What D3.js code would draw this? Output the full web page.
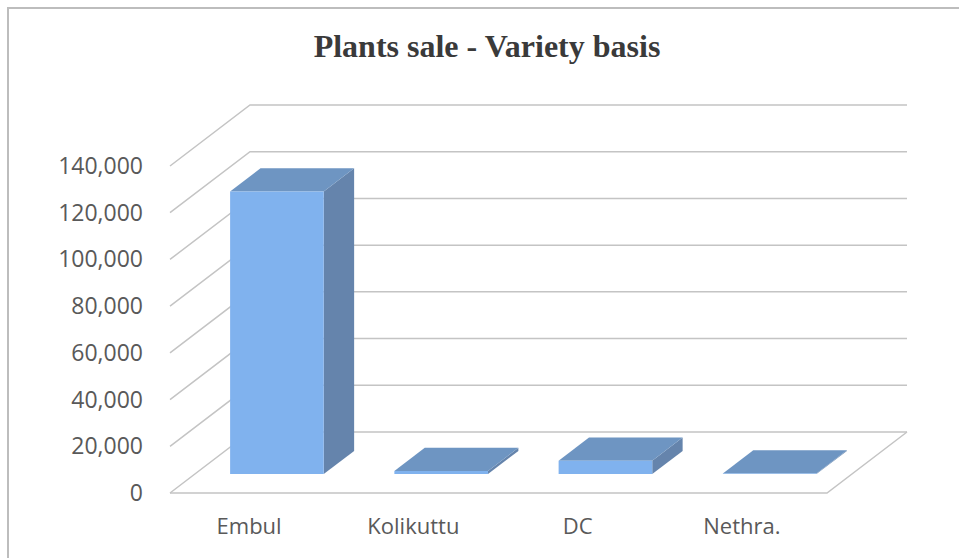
<!DOCTYPE html>
<html>
<head>
<meta charset="utf-8">
<script src="https://cdn.jsdelivr.net/npm/d3@7"></script>
<style>
  body { margin: 0; background: #fff; }
  svg { display: block; }
</style>
</head>
<body>
<svg id="chart" width="959" height="558"></svg>
<script>
"use strict";

// chart data
var categories = ["Embul", "Kolikuttu", "DC", "Nethra."];
var sales = [121000, 1300, 5700, 300];
var tickValues = [0, 20000, 40000, 60000, 80000, 100000, 120000, 140000];
var title = "Plants sale - Variety basis";

var svg = d3.select("#chart");

// 3d box: front floor edge, depth offset of the back wall
var front = {left: 170, right: 827, base: 493};
var depth = {dx: 80, dy: -61};
var barDepth = [0.31, 0.69];

var x = d3.scaleBand()
    .domain(categories)
    .range([front.left, front.right])
    .paddingInner(0.43)
    .paddingOuter(0.215);

var h = d3.scaleLinear()
    .domain([0, 140000])
    .range([0, 327]);

// project (front x, value, depth fraction) to screen
function pt(px, v, f) {
  return [px + f * depth.dx, front.base - h(v) + f * depth.dy];
}

function poly(points) {
  return "M" + points.map(function(p){ return p.join(","); }).join("L") + "Z";
}

// outer border
svg.append("rect")
    .attr("x", 8).attr("y", 8)
    .attr("width", 980).attr("height", 600)
    .style("fill", "none")
    .style("stroke", "#bdbdbd")
    .style("stroke-width", 2);

svg.append("text")
    .attr("x", 487)
    .attr("y", 57)
    .attr("text-anchor", "middle")
    .style("font-family", "'Liberation Serif', 'Times New Roman', serif")
    .style("font-weight", "bold")
    .style("font-size", "32px")
    .style("fill", "#3a3a3a")
    .text(title);

var grid = svg.append("g")
    .style("stroke", "#c4c4c4")
    .style("stroke-width", 1.5)
    .style("fill", "none");

// back wall lines + left wall diagonals
tickValues.forEach(function(t) {
  var a = pt(front.left, t, 0), b = pt(front.left, t, 1), c = pt(front.right, t, 1);
  grid.append("path").attr("d", "M" + a + "L" + b + "L" + c);
});

// floor front and right edges
grid.append("path")
    .attr("d", "M" + pt(front.left, 0, 0) + "L" + pt(front.right, 0, 0) + "L" + pt(front.right, 0, 1));

// y tick labels
svg.append("g").selectAll("text")
    .data(tickValues)
    .enter()
    .append("text")
    .attr("x", 143)
    .attr("y", function(d){ return pt(front.left, d, 0)[1]; })
    .attr("dy", "0.35em")
    .attr("text-anchor", "end")
    .style("font-family", "'Open Sans', sans-serif")
    .style("font-size", "23px")
    .style("fill", "#595959")
    .text(function(d){ return d3.format(",")(d); });

// bars: side, top, then front face
var bars = svg.append("g").selectAll("g")
    .data(categories)
    .enter()
    .append("g");

var f0 = barDepth[0], f1 = barDepth[1];

bars.append("path")
    .attr("d", function(d, i) {
      var x1 = x(d) + x.bandwidth();
      return poly([pt(x1, 0, f0), pt(x1, 0, f1), pt(x1, sales[i], f1), pt(x1, sales[i], f0)]);
    })
    .style("fill", "#6584ac");

bars.append("path")
    .attr("d", function(d, i) {
      var x0 = x(d), x1 = x(d) + x.bandwidth(), v = sales[i];
      return poly([pt(x0, v, f0), pt(x1, v, f0), pt(x1, v, f1), pt(x0, v, f1)]);
    })
    .style("fill", "#6e95c2");

bars.append("path")
    .attr("d", function(d, i) {
      var x0 = x(d), x1 = x(d) + x.bandwidth();
      return poly([pt(x0, 0, f0), pt(x1, 0, f0), pt(x1, sales[i], f0), pt(x0, sales[i], f0)]);
    })
    .style("fill", "#80b2ee");

// category labels
svg.append("g").selectAll("text")
    .data(categories)
    .enter()
    .append("text")
    .attr("x", function(d){ return x(d) + x.bandwidth() / 2 + 0.25 * depth.dx - 23; })
    .attr("y", 534)
    .attr("text-anchor", "middle")
    .style("font-family", "'Open Sans', sans-serif")
    .style("font-size", "22px")
    .style("fill", "#595959")
    .text(function(d){ return d; });
</script>
</body>
</html>
